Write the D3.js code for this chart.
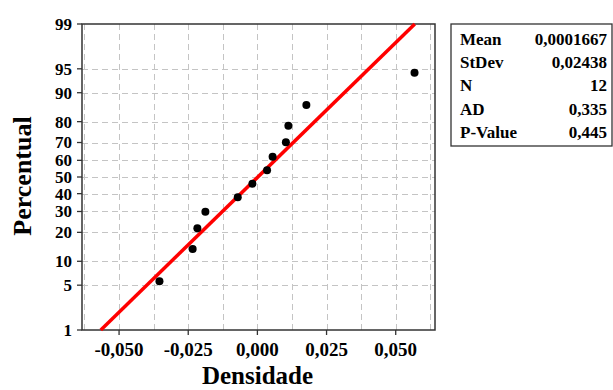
<!DOCTYPE html>
<html>
<head>
<meta charset="utf-8">
<script src="https://cdn.jsdelivr.net/npm/d3@7"></script>
<style>
  html, body { margin: 0; padding: 0; background: #fff; }
  svg { display: block; }
  text { font-family: "Liberation Serif", "Times New Roman", serif; font-weight: bold; fill: #000; }
</style>
</head>
<body>
<svg id="chart" width="613" height="390"></svg>
<script>
// ---- data ----
const densidade = [-0.0354, -0.0234, -0.0217, -0.0188, -0.0071, -0.0018, 0.0035, 0.0055, 0.0103, 0.0112, 0.0177, 0.0568];
const percentual = [5.65, 13.71, 21.77, 29.84, 37.90, 45.97, 54.03, 62.10, 70.16, 78.23, 86.29, 94.35];
const fitX = [-0.0566, 0.0569];
const fitP = [1, 99];
const yTicks = [1, 5, 10, 20, 30, 40, 50, 60, 70, 80, 90, 95, 99];
const xTicks = [-0.050, -0.025, 0.000, 0.025, 0.050];
const xGrid = [-0.0625, -0.05, -0.0375, -0.025, -0.0125, 0, 0.0125, 0.025, 0.0375, 0.05, 0.0625];
const statLabels = ["Mean", "StDev", "N", "AD", "P-Value"];
const statValues = ["0,0001667", "0,02438", "12", "0,335", "0,445"];
const xTitle = "Densidade";
const yTitle = "Percentual";

// inverse normal CDF (Acklam)
function probit(p) {
  const a = [-3.969683028665376e+01, 2.209460984245205e+02, -2.759285104469687e+02, 1.383577518672690e+02, -3.066479806614716e+01, 2.506628277459239e+00];
  const b = [-5.447609879822406e+01, 1.615858368580409e+02, -1.556989798598866e+02, 6.680131188771972e+01, -1.328068155288572e+01];
  const c = [-7.784894002430293e-03, -3.223964580411365e-01, -2.400758277161838e+00, -2.549732539343734e+00, 4.374664141464968e+00, 2.938163982698783e+00];
  const d = [7.784695709041462e-03, 3.224671290700398e-01, 2.445134137142996e+00, 3.754408661907416e+00];
  const pl = 0.02425, ph = 1 - pl;
  let q, r;
  if (p < pl) {
    q = Math.sqrt(-2 * Math.log(p));
    return (((((c[0]*q+c[1])*q+c[2])*q+c[3])*q+c[4])*q+c[5]) / ((((d[0]*q+d[1])*q+d[2])*q+d[3])*q+1);
  } else if (p <= ph) {
    q = p - 0.5; r = q*q;
    return (((((a[0]*r+a[1])*r+a[2])*r+a[3])*r+a[4])*r+a[5])*q / (((((b[0]*r+b[1])*r+b[2])*r+b[3])*r+b[4])*r+1);
  } else {
    q = Math.sqrt(-2 * Math.log(1 - p));
    return -(((((c[0]*q+c[1])*q+c[2])*q+c[3])*q+c[4])*q+c[5]) / ((((d[0]*q+d[1])*q+d[2])*q+d[3])*q+1);
  }
}

const svg = d3.select("#chart");
const L = 82, R = 435, T = 24, B = 330;

const x = d3.scaleLinear().domain([-0.0634, 0.0642]).range([L, R]);
const zScale = d3.scaleLinear().domain([probit(0.01), probit(0.99)]).range([B, T]);
const y = p => zScale(probit(p / 100));

// grid
const grid = svg.append("g").attr("stroke", "#c4c4c4").attr("stroke-width", 1).attr("stroke-dasharray", "6,4");
grid.selectAll("line.v").data(xGrid).join("line")
  .attr("x1", d => Math.round(x(d)) + 0.5).attr("x2", d => Math.round(x(d)) + 0.5)
  .attr("y1", T).attr("y2", B);
grid.selectAll("line.h").data(yTicks.filter(d => d !== 1 && d !== 99)).join("line")
  .attr("x1", L).attr("x2", R)
  .attr("y1", d => Math.round(y(d)) + 0.5).attr("y2", d => Math.round(y(d)) + 0.5);

// frame
svg.append("rect").attr("x", L).attr("y", T).attr("width", R - L).attr("height", B - T)
  .attr("fill", "none").attr("stroke", "#333").attr("stroke-width", 1.5);

// y ticks
const yg = svg.append("g");
yg.selectAll("line").data(yTicks).join("line")
  .attr("x1", L - 5).attr("x2", L).attr("y1", d => y(d)).attr("y2", d => y(d))
  .attr("stroke", "#333").attr("stroke-width", 1.3);
yg.selectAll("text").data(yTicks).join("text")
  .attr("x", L - 10).attr("y", d => y(d)).attr("dy", "0.35em")
  .attr("text-anchor", "end").attr("font-size", 17)
  .text(d => d);

// x ticks
const xg = svg.append("g");
xg.selectAll("line").data(xTicks).join("line")
  .attr("x1", d => x(d)).attr("x2", d => x(d)).attr("y1", B).attr("y2", B + 5)
  .attr("stroke", "#333").attr("stroke-width", 1.3);
xg.selectAll("text").data(xTicks).join("text")
  .attr("x", d => x(d)).attr("y", B + 26)
  .attr("text-anchor", "middle").attr("font-size", 19)
  .text(d => d3.format(".3f")(d).replace("−", "-").replace(".", ","));

// axis titles
svg.append("text").attr("x", (L + R) / 2 - 1).attr("y", 384)
  .attr("text-anchor", "middle").attr("font-size", 25).text(xTitle);
svg.append("text").attr("transform", "translate(31,176) rotate(-90)")
  .attr("text-anchor", "middle").attr("font-size", 26).text(yTitle);

// fitted line
svg.append("line")
  .attr("x1", x(fitX[0])).attr("y1", y(fitP[0]))
  .attr("x2", x(fitX[1])).attr("y2", y(fitP[1]))
  .attr("stroke", "#ff0000").attr("stroke-width", 3.5);

// points
svg.append("g").selectAll("circle").data(densidade.map((d, i) => [d, percentual[i]])).join("circle")
  .attr("cx", d => x(d[0])).attr("cy", d => y(d[1])).attr("r", 4).attr("fill", "#000");

// stats box
svg.append("rect").attr("x", 451).attr("y", 24).attr("width", 161).attr("height", 122)
  .attr("fill", "#fff").attr("stroke", "#333").attr("stroke-width", 1.3);
const sg = svg.append("g");
sg.selectAll("text.l").data(statLabels).join("text")
  .attr("x", 460).attr("y", (d, i) => 44.5 + i * 23.4)
  .attr("font-size", 17).text(d => d);
sg.selectAll("text.v").data(statValues).join("text")
  .attr("x", 607).attr("y", (d, i) => 44.5 + i * 23.4)
  .attr("text-anchor", "end").attr("font-size", 17).text(d => d);
</script>
</body>
</html>
